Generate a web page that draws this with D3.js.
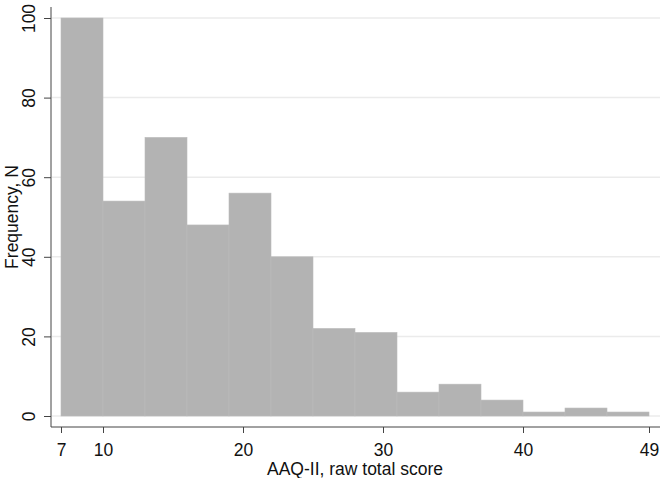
<!DOCTYPE html>
<html>
<head>
<meta charset="utf-8">
<script src="https://cdn.jsdelivr.net/npm/d3@7"></script>
<style>
  body { margin: 0; background: #fff; }
  text { font-family: "Liberation Sans", Arial, sans-serif; }
</style>
</head>
<body>
<svg id="chart"></svg>
<script>
// histogram bins (lower edge) and counts
const binStarts = [7, 10, 13, 16, 19, 22, 25, 28, 31, 34, 37, 40, 43, 46];
const binWidth = 3;
const counts = [100, 54, 70, 48, 56, 40, 22, 21, 6, 8, 4, 1, 2, 1];
const xTicks = [7, 10, 20, 30, 40, 49];
const yTicks = [0, 20, 40, 60, 80, 100];

const width = 664, height = 478;
const fontSize = 17.5;

const svg = d3.select('#chart')
  .attr('width', width)
  .attr('height', height);

const x = d3.scaleLinear().domain([7, 49]).range([61, 649]);
const y = d3.scaleLinear().domain([0, 100]).range([416, 18]);

// gridlines
svg.append('g')
  .selectAll('line')
  .data(yTicks)
  .enter()
  .append('line')
  .attr('x1', 52)
  .attr('x2', 660)
  .attr('y1', d => y(d))
  .attr('y2', d => y(d))
  .attr('stroke', '#ebebeb')
  .attr('stroke-width', 1.5);

// bars
svg.append('g')
  .selectAll('rect')
  .data(counts)
  .enter()
  .append('rect')
  .attr('x', (d, i) => x(binStarts[i]))
  .attr('width', (d, i) => x(binStarts[i] + binWidth) - x(binStarts[i]))
  .attr('y', d => y(d))
  .attr('height', d => y(0) - y(d))
  .attr('fill', '#b3b3b3')
  .attr('stroke', '#bcbcbc')
  .attr('stroke-width', 0.6);

// y axis
const yAxis = svg.append('g')
  .attr('transform', 'translate(51,0)')
  .call(d3.axisLeft(y).tickValues(yTicks).tickSize(7));
yAxis.select('.domain').attr('d', 'M0,7V427').attr('stroke', '#444');
yAxis.selectAll('.tick line').attr('stroke', '#444');
yAxis.selectAll('.tick text')
  .attr('font-size', fontSize)
  .attr('fill', '#111')
  .attr('transform', 'rotate(-90)')
  .attr('x', 0)
  .attr('y', -16)
  .attr('dy', '0')
  .attr('text-anchor', 'middle');

// x axis
const xAxis = svg.append('g')
  .attr('transform', 'translate(0,427)')
  .call(d3.axisBottom(x).tickValues(xTicks).tickSize(6).tickPadding(11));
xAxis.select('.domain').attr('d', 'M51,0H660').attr('stroke', '#444');
xAxis.selectAll('.tick line').attr('stroke', '#444');
xAxis.selectAll('.tick text')
  .attr('font-size', fontSize)
  .attr('fill', '#111');

// axis titles
svg.append('text')
  .attr('x', x(28))
  .attr('y', 475)
  .attr('text-anchor', 'middle')
  .attr('font-size', fontSize)
  .attr('fill', '#111')
  .text('AAQ-II, raw total score');

svg.append('text')
  .attr('transform', `translate(18,${y(50)}) rotate(-90)`)
  .attr('text-anchor', 'middle')
  .attr('font-size', fontSize)
  .attr('fill', '#111')
  .text('Frequency, N');
</script>
</body>
</html>
